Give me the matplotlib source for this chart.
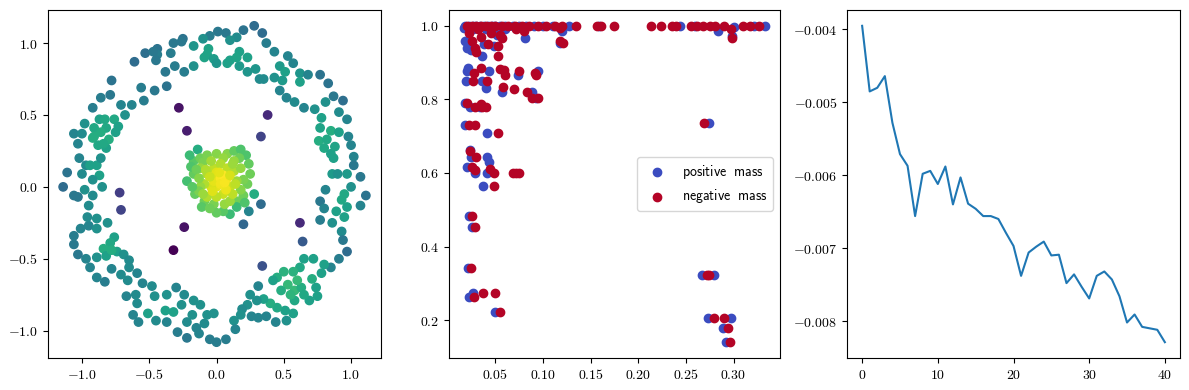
import matplotlib
matplotlib.use("Agg")
import matplotlib.pyplot as plt
from matplotlib.ticker import FuncFormatter
import numpy as np

plt.rcParams["mathtext.fontset"] = "cm"
plt.rcParams["font.size"] = 10

# ---------------------------------------------------------------
# left panel: (x, y, colour value)
# ---------------------------------------------------------------
ring_pts = [
    (0.28, 1.12, .35), (0.34, 1.07, .35), (0.20, 1.09, .38), (0.07, 1.07, .40), (0.01, 1.08, .40),
    (-0.05, 1.05, .42), (0.15, 1.04, .48), (0.10, 1.02, .50), (-0.10, 1.03, .50), (-0.17, 0.98, .52),
    (-0.25, 1.03, .38), (-0.32, 1.00, .40), (-0.44, 0.96, .38), (-0.53, 0.93, .36), (-0.61, 0.87, .35),
    (-0.34, 0.93, .42), (-0.44, 0.92, .42), (-0.45, 0.88, .40), (-0.38, 0.80, .40), (-0.31, 0.84, .42),
    (-0.24, 0.80, .42), (-0.17, 0.84, .50), (-0.07, 0.92, .58), (-0.09, 0.90, .58), (-0.02, 0.89, .55),
    (0.00, 0.86, .52), (0.08, 0.86, .57), (0.10, 0.88, .57), (0.17, 0.94, .57), (0.23, 0.90, .57),
    (0.17, 0.84, .54), (0.23, 0.80, .52), (0.29, 0.82, .52), (0.37, 1.00, .42), (0.43, 0.94, .45),
    (0.53, 0.91, .45), (0.57, 0.86, .45), (0.47, 0.84, .54), (0.51, 0.80, .57), (0.32, 0.75, .48),
    (0.35, 0.75, .48), (0.43, 0.76, .50), (0.49, 0.74, .54), (0.62, 0.79, .52), (0.68, 0.78, .45),
    (0.77, 0.78, .38), (0.83, 0.72, .38), (0.87, 0.63, .40), (0.94, 0.60, .36), (0.62, 0.73, .57),
    (0.47, 0.67, .45), (0.52, 0.62, .45), (0.58, 0.59, .48), (0.65, 0.55, .45), (0.73, 0.54, .50),
    (0.81, 0.59, .50), (0.91, 0.52, .48), (0.78, 0.48, .57), (0.97, 0.47, .45), (0.77, 0.41, .58),
    (0.85, 0.39, .62), (0.91, 0.38, .57), (0.98, 0.35, .45), (0.76, 0.32, .62), (0.80, 0.27, .60),
    (1.00, 0.29, .45), (0.85, 0.23, .57), (1.02, 0.21, .45), (1.02, 0.15, .40), (0.87, 0.20, .57),
    (0.97, 0.09, .54), (0.86, 0.09, .54), (1.07, 0.07, .40), (1.00, 0.00, .50), (0.90, 0.09, .50),
    (0.95, -0.05, .60), (1.11, -0.06, .38), (0.81, -0.02, .45), (0.77, -0.10, .40), (0.80, -0.15, .45),
    (0.97, -0.14, .57), (1.07, -0.13, .45), (0.89, -0.17, .57), (0.95, -0.21, .57), (0.77, -0.23, .42),
    (0.86, -0.25, .50), (0.93, -0.31, .48), (0.94, -0.37, .40), (0.97, -0.45, .35), (0.91, -0.50, .42),
    (0.85, -0.56, .45), (0.80, -0.54, .57), (0.72, -0.50, .57), (0.65, -0.50, .57), (0.62, -0.56, .60),
    (0.78, -0.60, .57), (0.71, -0.64, .62), (0.57, -0.59, .64), (0.50, -0.59, .64), (0.45, -0.63, .62),
    (0.42, -0.65, .57), (0.53, -0.68, .67), (0.58, -0.72, .67), (0.63, -0.70, .62), (0.74, -0.70, .57),
    (0.69, -0.79, .57), (0.75, -0.76, .57), (0.58, -0.79, .60), (0.51, -0.86, .57), (0.57, -0.88, .57),
    (0.45, -0.84, .60), (0.40, -0.81, .62), (0.35, -0.78, .57), (0.30, -0.79, .50), (0.25, -0.75, .50),
    (0.31, -0.69, .45), (0.23, -0.82, .50), (0.19, -0.85, .48), (0.26, -0.90, .45), (0.31, -0.91, .45),
    (0.37, -0.90, .45), (0.44, -0.94, .45), (0.52, -0.93, .50), (0.18, -0.89, .50), (0.13, -0.93, .50),
    (0.14, -0.99, .45), (0.07, -1.06, .42), (0.00, -1.08, .42), (-0.05, -1.06, .42), (-0.09, -0.95, .48),
    (-0.02, -0.88, .50), (-0.07, -0.89, .50), (-0.13, -1.02, .45), (-0.15, -0.98, .45), (-0.22, -1.05, .40),
    (-0.29, -1.01, .42), (-0.22, -0.94, .48), (-0.18, -0.89, .50), (-0.12, -0.82, .50), (-0.17, -0.79, .50),
    (-0.24, -0.75, .48), (-0.30, -0.70, .45), (-0.26, -0.82, .50), (-0.32, -0.87, .57), (-0.38, -0.86, .57),
    (-0.37, -0.94, .45), (-0.45, -0.93, .48), (-0.37, -0.75, .50), (-0.46, -0.76, .50), (-0.48, -0.69, .48),
    (-0.55, -0.67, .45), (-0.51, -0.88, .57), (-0.58, -0.94, .45), (-0.62, -0.89, .45), (-0.59, -0.81, .48),
    (-0.60, -0.75, .48), (-0.67, -0.76, .45), (-0.66, -0.65, .48), (-0.71, -0.61, .48), (-0.78, -0.57, .45),
    (-0.83, -0.66, .42), (-0.89, -0.63, .45), (-0.94, -0.56, .45), (-0.97, -0.50, .45), (-1.03, -0.47, .40),
    (-1.06, -0.40, .40), (-1.06, -0.34, .42), (-1.01, -0.29, .45), (-0.95, -0.27, .45), (-0.96, -0.21, .48),
    (-0.89, -0.22, .50), (-0.89, -0.29, .50), (-0.81, -0.25, .50), (-0.76, -0.35, .57), (-0.79, -0.39, .60),
    (-0.84, -0.43, .62), (-0.82, -0.48, .57), (-0.74, -0.45, .57), (-0.69, -0.47, .50), (-0.65, -0.51, .48),
    (-0.65, -0.56, .48), (-0.59, -0.60, .45), (-0.89, -0.49, .50), (-0.95, -0.13, .48), (-1.03, -0.07, .40),
    (-0.98, -0.02, .50), (-1.06, -0.06, .40), (-1.11, 0.10, .38), (-1.14, 0.00, .35), (-1.00, 0.09, .48),
    (-0.97, 0.15, .48), (-1.02, 0.20, .45), (-0.94, 0.15, .57), (-0.89, 0.15, .57), (-0.87, 0.08, .57),
    (-0.92, 0.05, .50), (-0.85, 0.00, .50), (-0.92, -0.06, .48), (-1.03, 0.30, .45), (-1.06, 0.37, .45),
    (-1.00, 0.37, .48), (-0.98, 0.44, .50), (-0.91, 0.41, .60), (-0.91, 0.35, .62), (-0.87, 0.47, .57),
    (-0.83, 0.47, .60), (-0.76, 0.47, .60), (-0.73, 0.42, .57), (-0.75, 0.38, .57), (-0.92, 0.34, .62),
    (-0.88, 0.29, .60), (-0.82, 0.27, .57), (-0.86, 0.20, .50), (-0.82, 0.41, .60), (-0.68, 0.50, .50),
    (-0.71, 0.57, .45), (-0.63, 0.57, .45), (-0.79, 0.64, .40), (-0.86, 0.62, .42), (-0.92, 0.55, .42),
    (-0.54, 0.60, .42), (-0.56, 0.69, .42), (-0.46, 0.67, .40), (-0.37, 0.70, .38), (-0.47, 0.94, .40),
    (-0.26, 1.01, .40), (-0.78, 0.74, .38),
    (-0.86, 0.38, .62), (-0.80, 0.33, .62), (-0.84, 0.30, .60), (0.60, -0.65, .67), (0.55, -0.75, .65),
    (0.65, -0.75, .60), (0.48, -0.72, .62), (-0.78, -0.44, .62), (0.82, 0.33, .60), (0.88, 0.28, .58),
    (0.93, -0.09, .60), (-0.06, 0.96, .58), (0.15, 0.90, .58),
]

inner_pts = [
    (-0.28, 0.55, .05), (-0.22, 0.39, .08), (0.38, 0.50, .12), (0.33, 0.35, .20),
    (-0.72, -0.04, .18), (-0.71, -0.16, .20), (-0.24, -0.28, .05), (-0.32, -0.44, .00),
    (0.62, -0.25, .12), (0.64, -0.38, .28), (0.34, -0.55, .25), (0.20, -0.26, .33),
    (0.33, -0.12, .35), (0.24, -0.17, .45),
]

core_pts = [
    (-0.14, 0.26, .62), (-0.17, 0.18, .74), (-0.12, 0.20, .78), (-0.07, 0.22, .80), (0.00, 0.23, .82),
    (0.08, 0.23, .82), (0.13, 0.25, .76), (0.18, 0.26, .72), (0.22, 0.22, .72), (0.24, 0.16, .76),
    (0.25, 0.09, .78), (0.23, 0.02, .78), (0.28, -0.05, .62), (0.20, -0.06, .78), (0.16, -0.10, .78),
    (0.15, -0.14, .68), (0.10, -0.19, .68), (0.05, -0.17, .74), (-0.02, -0.12, .80), (-0.09, -0.10, .78),
    (-0.16, -0.05, .76), (-0.22, 0.04, .70), (-0.17, 0.09, .76), (-0.19, 0.14, .72), (-0.20, 0.22, .68),
    (0.21, -0.11, .72), (0.00, -0.18, .76), (-0.11, -0.14, .74), (-0.05, -0.15, .78), (0.06, -0.12, .84),
    (-0.10, 0.17, .80), (0.05, 0.20, .84), (0.17, 0.20, .78), (0.20, 0.05, .80), (0.18, -0.02, .82),
    (-0.12, 0.13, .84), (-0.07, 0.09, .88),
    (-0.02, 0.13, .90), (0.03, 0.16, .88), (0.08, 0.13, .90), (0.13, 0.11, .88), (0.15, 0.04, .85),
    (0.10, 0.00, .92), (0.05, -0.05, .92), (0.00, 0.00, .96), (-0.04, 0.00, .94), (-0.09, 0.02, .88),
    (-0.02, 0.04, .96), (-0.07, -0.07, .88), (0.00, -0.07, .90), (-0.12, 0.00, .84), (0.18, 0.13, .84),
    (0.13, 0.18, .84), (-0.04, 0.18, .86), (0.10, -0.10, .85), (-0.15, 0.12, .78), (0.12, -0.05, .90),
    (-0.13, -0.03, .80), (-0.18, 0.00, .74), (-0.13, 0.06, .82), (-0.08, 0.12, .88), (0.12, 0.16, .85),
    (0.14, 0.02, .90), (-0.10, -0.05, .85), (0.00, 0.10, .95), (0.07, -0.02, .97), (-0.03, -0.03, .95),
    (0.03, 0.06, .99), (0.08, 0.06, .98), (0.03, 0.02, .98), (0.05, 0.08, 1.0), (0.06, 0.03, .99),
    (0.02, 0.10, .96), (-0.05, 0.07, .92), (0.10, 0.08, .94),
]

# ---------------------------------------------------------------
# middle panel: (x, y) for positive and negative mass
# ---------------------------------------------------------------
pos_mass = [
    (0.018, 1.0), (0.022, 1.0), (0.026, 1.0), (0.030, 1.0), (0.034, 1.0), (0.038, 1.0), (0.042, 1.0),
    (0.046, 1.0), (0.050, 1.0), (0.055, 1.0), (0.060, 1.0), (0.068, 1.0), (0.075, 1.0), (0.082, 1.0),
    (0.090, 1.0), (0.100, 1.0), (0.110, 1.0), (0.127, 1.0), (0.159, 1.0), (0.244, 1.0), (0.260, 1.0),
    (0.300, 0.998), (0.322, 1.0), (0.333, 1.0),
    (0.017, 0.995), (0.018, 0.96), (0.020, 0.94), (0.024, 0.935), (0.026, 0.99), (0.040, 0.99),
    (0.052, 0.975), (0.060, 0.99), (0.081, 0.967), (0.120, 0.985), (0.284, 0.985), (0.298, 0.972),
    (0.038, 0.95), (0.048, 0.945), (0.118, 0.952), (0.036, 0.917),
    (0.020, 0.878), (0.021, 0.885), (0.043, 0.878), (0.074, 0.865), (0.095, 0.876),
    (0.019, 0.85), (0.036, 0.85), (0.040, 0.83), (0.057, 0.82), (0.088, 0.82), (0.093, 0.804),
    (0.018, 0.79), (0.023, 0.78), (0.034, 0.78),
    (0.018, 0.73), (0.041, 0.708),
    (0.023, 0.663), (0.024, 0.644), (0.041, 0.644), (0.043, 0.63), (0.020, 0.615), (0.028, 0.605),
    (0.029, 0.60), (0.041, 0.60), (0.037, 0.565),
    (0.022, 0.483), (0.025, 0.454), (0.021, 0.341), (0.026, 0.274), (0.022, 0.262), (0.050, 0.222),
    (0.274, 0.737), (0.267, 0.323), (0.280, 0.323), (0.273, 0.207), (0.297, 0.207),
    (0.289, 0.178), (0.292, 0.140),
]

neg_mass = [
    (0.020, 1.0), (0.025, 1.0), (0.030, 1.0), (0.035, 1.0), (0.040, 1.0), (0.045, 1.0), (0.050, 1.0),
    (0.057, 1.0), (0.063, 1.0), (0.070, 1.0), (0.078, 1.0), (0.085, 1.0), (0.095, 1.0), (0.103, 1.0),
    (0.112, 1.0), (0.120, 1.0), (0.135, 1.0), (0.157, 1.0), (0.161, 1.0), (0.174, 1.0), (0.213, 1.0),
    (0.224, 1.0), (0.235, 1.0), (0.240, 1.0), (0.255, 1.0), (0.262, 1.0), (0.268, 1.0), (0.275, 1.0),
    (0.281, 1.0), (0.290, 1.0), (0.310, 1.0), (0.317, 1.0), (0.327, 1.0),
    (0.022, 0.98), (0.025, 0.96), (0.028, 0.94), (0.030, 0.93), (0.032, 0.99), (0.035, 0.97),
    (0.045, 0.98), (0.055, 0.975), (0.057, 0.968), (0.080, 0.985), (0.072, 0.99), (0.118, 0.995),
    (0.297, 0.99), (0.298, 0.968),
    (0.042, 0.95), (0.053, 0.945), (0.121, 0.952), (0.118, 0.96), (0.053, 0.917),
    (0.027, 0.873), (0.035, 0.885), (0.055, 0.882), (0.059, 0.88), (0.060, 0.865), (0.075, 0.876),
    (0.092, 0.873), (0.093, 0.865),
    (0.026, 0.85), (0.041, 0.85), (0.058, 0.835), (0.069, 0.827), (0.083, 0.82), (0.088, 0.804),
    (0.095, 0.804),
    (0.020, 0.79), (0.029, 0.78), (0.036, 0.78), (0.035, 0.787), (0.040, 0.78),
    (0.022, 0.73), (0.028, 0.73), (0.053, 0.708),
    (0.023, 0.66), (0.030, 0.644), (0.044, 0.61), (0.025, 0.615), (0.028, 0.608), (0.048, 0.60),
    (0.068, 0.60), (0.072, 0.60), (0.075, 0.60), (0.048, 0.565),
    (0.025, 0.483), (0.029, 0.454), (0.024, 0.341), (0.037, 0.274), (0.050, 0.274), (0.027, 0.262),
    (0.055, 0.222),
    (0.269, 0.737), (0.272, 0.323), (0.274, 0.323), (0.280, 0.207), (0.290, 0.207),
    (0.294, 0.178), (0.296, 0.140),
]

# ---------------------------------------------------------------
# right panel: 41 values
# ---------------------------------------------------------------
curve = [
    -0.00395, -0.00485, -0.00480, -0.00464, -0.00528, -0.00571, -0.00587, -0.00656, -0.00598,
    -0.00594, -0.00612, -0.00588, -0.00640, -0.00603, -0.00639, -0.00646, -0.00656, -0.00656,
    -0.00660, -0.00679, -0.00697, -0.00738, -0.00706, -0.00698, -0.00691, -0.00710, -0.00709,
    -0.00748, -0.00736, -0.00753, -0.00769, -0.00738, -0.00732, -0.00743, -0.00766, -0.00802,
    -0.00791, -0.00808, -0.00810, -0.00812, -0.00829,
]


def fmt(decimals):
    return FuncFormatter(lambda v, p: "$%.*f$" % (decimals, v))


W, H = 1189, 390
fig = plt.figure(figsize=(W / 100, H / 100), dpi=100)
ax1 = fig.add_axes([48 / W, 32 / H, 333 / W, 348 / H])
ax2 = fig.add_axes([449 / W, 32 / H, 331 / W, 348 / H])
ax3 = fig.add_axes([847 / W, 32 / H, 333 / W, 348 / H])

# left
pts = ring_pts + inner_pts + core_pts
px = [p[0] for p in pts]
py = [p[1] for p in pts]
pc = [p[2] for p in pts]
ax1.scatter(px, py, c=pc, cmap="viridis", vmin=0, vmax=1)
ax1.xaxis.set_major_formatter(fmt(1))
ax1.yaxis.set_major_formatter(fmt(1))

# middle
ax2.scatter([p[0] for p in pos_mass], [p[1] for p in pos_mass], color="#3b4cc0",
            label=r"$\mathsf{positive\ \ mass}$")
ax2.scatter([p[0] for p in neg_mass], [p[1] for p in neg_mass], color="#b40426",
            label=r"$\mathsf{negative\ \ mass}$")
ax2.legend(loc="center right")
ax2.xaxis.set_major_formatter(fmt(2))
ax2.yaxis.set_major_formatter(fmt(1))

# right
ax3.plot(np.arange(len(curve)), curve, color="#1f77b4")
ax3.xaxis.set_major_formatter(fmt(0))
ax3.yaxis.set_major_formatter(fmt(3))

plt.savefig("out.png", dpi=100)
